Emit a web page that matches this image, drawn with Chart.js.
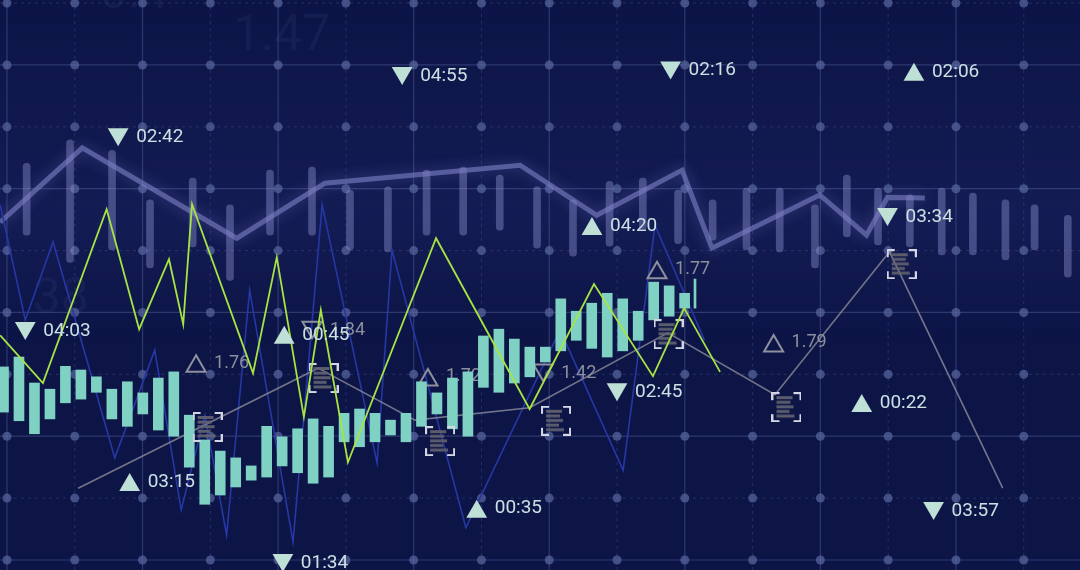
<!DOCTYPE html>
<html>
<head>
<meta charset="utf-8">
<style>
  html, body { margin: 0; padding: 0; background: #0d1547; }
  #chart { display: block; }
</style>
</head>
<body>
<canvas id="chart" width="1080" height="570"></canvas>
<script src="https://cdn.jsdelivr.net/npm/chart.js@4.4.0/dist/chart.umd.min.js"></script>
<script>
// mint candle bars, one per step (grid units)
const barLow  = [2.39, 2.25, 2.04, 2.28, 2.54, 2.60, 2.71, 2.28, 2.16, 2.36, 2.10, 2.00, 1.50, 0.90, 1.05,
                 1.18, 1.29, 1.34, 1.52, 1.41, 1.24, 1.34, 1.91, 1.83, 1.91, 2.02, 1.91, 2.16, 2.36, 2.12,
                 2.00, 2.79, 2.71, 2.86, 2.96, 3.20, 3.38, 3.55, 3.42, 3.28, 3.38, 3.55, 3.88, 3.94, 4.07];
const barHigh = [3.12, 3.28, 2.86, 2.76, 3.13, 3.07, 2.96, 2.76, 2.88, 2.70, 2.94, 3.04, 2.34, 1.94, 1.76,
                 1.65, 1.52, 2.16, 1.99, 2.12, 2.28, 2.16, 2.37, 2.44, 2.37, 2.26, 2.37, 2.88, 2.70, 2.94,
                 3.04, 3.62, 3.73, 3.57, 3.44, 3.44, 4.22, 4.02, 4.15, 4.31, 4.22, 4.02, 4.49, 4.43, 4.31];
const cursorStep = 44.67, cursorLow = 4.07, cursorHigh = 4.54;

// faint lavender sticks behind the upper line
const stickX    = [0.29, 0.93, 1.55, 2.11, 2.74, 3.29, 3.88, 4.50, 5.06, 5.62, 6.19, 6.73, 7.27, 7.82, 8.35,
                   8.89, 9.38, 9.90, 10.41, 10.91, 11.40, 11.92, 12.39, 12.85, 13.32, 13.79, 14.25, 14.73, 15.16, 15.65];
const stickLow  = [5.25, 4.81, 5.01, 4.72, 5.06, 4.52, 5.25, 5.25, 5.01, 4.98, 5.25, 5.25, 5.33, 5.04, 4.91,
                   5.07, 5.33, 5.11, 5.17, 5.01, 4.98, 4.72, 5.22, 5.09, 5.06, 4.93, 4.93, 4.85, 5.01, 4.57];
const stickHigh = [6.41, 6.79, 6.62, 5.82, 6.17, 5.74, 6.30, 6.35, 5.98, 6.03, 6.30, 6.35, 6.22, 6.03, 5.82,
                   6.12, 6.17, 5.98, 5.82, 6.01, 6.01, 5.74, 6.22, 6.01, 5.90, 6.01, 5.93, 5.82, 5.74, 5.57];

// wide lavender line
const lavX = [-0.10, 1.11, 3.39, 4.69, 7.57, 8.70, 9.96, 10.40, 11.99, 12.68, 12.99, 13.54];
const lavY = [5.46, 6.66, 5.20, 6.09, 6.38, 5.57, 6.30, 5.04, 5.90, 5.25, 5.86, 5.85];

// lime zigzag
const greenX = [-0.10, 0.53, 1.47, 1.95, 2.39, 2.60, 2.73, 3.63, 3.98, 4.38, 4.63, 5.03, 6.33, 7.71, 8.66, 9.53, 9.99, 10.52];
const greenY = [3.63, 2.86, 5.67, 3.73, 4.86, 3.81, 5.75, 3.02, 4.89, 2.31, 4.04, 1.58, 5.20, 2.44, 4.46, 2.97, 4.07, 3.04];

// thin blue zigzag
const blueX = [-0.10, 0.27, 0.68, 1.59, 2.18, 2.57, 2.92, 3.24, 3.58, 4.22, 4.65, 5.46, 5.68, 6.77, 8.16, 9.09, 9.56, 10.29];
const blueY = [5.74, 3.88, 5.14, 1.65, 3.39, 0.81, 2.34, 0.40, 4.36, 0.29, 5.74, 1.57, 5.01, 0.52, 3.72, 1.45, 5.41, 3.55];

// grey line and its bracket markers
const grayX = [1.05, 4.59, 6.02, 7.71, 9.75, 11.33, 13.02, 14.69];
const grayY = [1.16, 3.10, 2.26, 2.46, 3.67, 2.67, 4.98, 1.16];
const markX = [2.96, 4.67, 6.39, 8.10, 9.76, 11.50, 13.20];
const markY = [2.15, 2.94, 1.92, 2.25, 3.65, 2.47, 4.78];

// time labels with solid triangles
const timeLabels = ['02:42', '04:55', '02:16', '02:06', '04:20', '03:34', '04:03', '00:45', '02:45', '00:22', '03:15', '00:35', '01:34', '03:57'];
const timeX      = [1.64, 5.83, 9.79, 13.38, 8.63, 12.99, 0.27, 4.09, 9.00, 12.61, 1.81, 6.93, 4.07, 13.67];
const timeY      = [6.88, 7.87, 7.96, 7.84, 5.35, 5.59, 3.75, 3.59, 2.76, 2.49, 1.21, 0.78, 0.00, 0.84];
const timeDir    = ['down', 'down', 'down', 'up', 'up', 'down', 'down', 'up', 'down', 'up', 'up', 'up', 'down', 'down'];

// value labels with outline triangles
const valueLabels = ['1.76', '1.84', '1.72', '1.42', '1.77', '1.79'];
const valueX      = [2.79, 4.50, 6.21, 7.91, 9.59, 11.31];
const valueY      = [3.13, 3.76, 2.91, 3.07, 4.64, 3.46];
const valueDir    = ['up', 'down', 'up', 'down', 'up', 'up'];

// faint numbers in the background
const ghostText = ['1.47', '38', '0:4'];
const ghostX    = [3.33, 0.38, 1.37];
const ghostY    = [8.45, 4.20, 9.13];

const pts = (xs, ys) => xs.map((x, i) => ({ x: x, y: ys[i] }));

// bracket icon used as point style
function makeMarker() {
  const c = document.createElement('canvas');
  c.width = 30; c.height = 30;
  const g = c.getContext('2d');
  g.fillStyle = 'rgba(100,100,112,0.9)';
  [16, 14, 17, 13, 18].forEach((w, i) => g.fillRect(5, 4 + i * 4.6, w, 3));
  g.strokeStyle = '#d4d5e2';
  g.lineWidth = 2;
  g.beginPath();
  g.moveTo(1, 8); g.lineTo(1, 1); g.lineTo(8, 1);
  g.moveTo(22, 1); g.lineTo(29, 1); g.lineTo(29, 8);
  g.moveTo(29, 22); g.lineTo(29, 29); g.lineTo(22, 29);
  g.moveTo(8, 29); g.lineTo(1, 29); g.lineTo(1, 22);
  g.stroke();
  return c;
}

// grid, dots and ghost text
const backdrop = {
  id: 'backdrop',
  beforeDatasetsDraw(chart) {
    const { ctx, scales: { x, y } } = chart;
    ctx.save();
    const band = ctx.createLinearGradient(0, 0, 0, 570);
    band.addColorStop(0, 'rgba(40,50,120,0)');
    band.addColorStop(0.38, 'rgba(50,60,140,0.2)');
    band.addColorStop(0.6, 'rgba(40,50,120,0)');
    ctx.fillStyle = band;
    ctx.fillRect(0, 0, 1080, 570);

    ctx.fillStyle = 'rgba(140,150,210,0.07)';
    ctx.font = '50px Roboto';
    ctx.textBaseline = 'middle';
    ghostText.forEach((t, i) => ctx.fillText(t, x.getPixelForValue(ghostX[i]), y.getPixelForValue(ghostY[i])));

    const xi = [], yi = [];
    for (let k = Math.ceil(x.min); k <= x.max; k++) xi.push(k);
    for (let k = Math.ceil(y.min); k <= y.max; k++) yi.push(k);
    xi.forEach(k => {
      const px = x.getPixelForValue(k);
      ctx.setLineDash(k % 2 ? [3, 4] : []);
      ctx.strokeStyle = k % 2 ? 'rgba(95,110,170,0.3)' : 'rgba(95,110,170,0.4)';
      ctx.lineWidth = k % 2 ? 1 : 1.2;
      ctx.beginPath(); ctx.moveTo(px, 0); ctx.lineTo(px, 570); ctx.stroke();
    });
    yi.forEach(k => {
      const py = y.getPixelForValue(k);
      ctx.setLineDash(k % 2 ? [3, 4] : []);
      ctx.strokeStyle = k % 2 ? 'rgba(95,110,170,0.3)' : 'rgba(95,110,170,0.4)';
      ctx.lineWidth = k % 2 ? 1 : 1.2;
      ctx.beginPath(); ctx.moveTo(0, py); ctx.lineTo(1080, py); ctx.stroke();
    });
    ctx.setLineDash([]);
    ctx.fillStyle = 'rgba(90,104,160,0.7)';
    xi.forEach(i => yi.forEach(j => {
      ctx.beginPath();
      ctx.arc(x.getPixelForValue(i), y.getPixelForValue(j), 4.5, 0, Math.PI * 2);
      ctx.fill();
    }));
    ctx.restore();
  }
};

// glow on some datasets, text next to triangle points
const decorate = {
  id: 'decorate',
  beforeDatasetDraw(chart, args) {
    const ds = chart.data.datasets[args.index];
    if (ds.glow) {
      chart.ctx.save();
      chart.ctx.shadowColor = ds.glow;
      chart.ctx.shadowBlur = 14;
    }
  },
  afterDatasetDraw(chart, args) {
    const ds = chart.data.datasets[args.index];
    const ctx = chart.ctx;
    if (ds.glow) ctx.restore();
    if (!ds.texts) return;
    ctx.save();
    ctx.font = ds.textFont;
    ctx.fillStyle = ds.textColor;
    ctx.textBaseline = 'middle';
    args.meta.data.forEach((pt, i) => {
      const dy = ds.dirs[i] === 'down' ? 3 : -3;
      ctx.fillText(ds.texts[i], pt.x + 18, pt.y + dy);
    });
    ctx.restore();
  }
};

Chart.defaults.font.family = 'Roboto';

new Chart(document.getElementById('chart'), {
  type: 'bar',
  data: {
    datasets: [
      {
        type: 'bar', label: 'sticks', order: 9, xAxisID: 'x', grouped: false,
        data: stickX.map((x, i) => ({ x: x, y: [stickLow[i], stickHigh[i]] })),
        backgroundColor: 'rgba(150,152,215,0.4)', barThickness: 7,
        borderRadius: 4, borderSkipped: false
      },
      {
        type: 'line', label: 'lavender', order: 8, xAxisID: 'x',
        data: pts(lavX, lavY), borderColor: 'rgba(125,128,195,0.62)', borderWidth: 5,
        pointRadius: 0, tension: 0, glow: 'rgba(140,145,225,0.55)'
      },
      {
        type: 'line', label: 'blue', order: 7, xAxisID: 'x',
        data: pts(blueX, blueY), borderColor: '#2637a6', borderWidth: 1.6,
        pointRadius: 0, tension: 0
      },
      {
        type: 'line', label: 'grey', order: 6, xAxisID: 'x',
        data: pts(grayX, grayY), borderColor: 'rgba(140,140,155,0.8)', borderWidth: 1.6,
        pointRadius: 0, tension: 0
      },
      {
        type: 'line', label: 'values', order: 5, xAxisID: 'x', showLine: false,
        data: pts(valueX, valueY), pointStyle: 'triangle', pointRadius: 11,
        pointRotation: c => valueDir[c.dataIndex] === 'down' ? 180 : 0,
        pointBackgroundColor: 'rgba(0,0,0,0)', pointBorderColor: '#8e909e', pointBorderWidth: 2,
        texts: valueLabels, dirs: valueDir, textFont: '18px Roboto', textColor: '#8c8f9c', clip: false
      },
      {
        type: 'bar', label: 'bars', order: 4, xAxisID: 'xb', grouped: false,
        data: barLow.map((lo, i) => ({ x: i, y: [lo, barHigh[i]] })),
        backgroundColor: '#7fd2c3', barThickness: 10, borderSkipped: false
      },
      {
        type: 'bar', label: 'cursor', order: 4, xAxisID: 'xb', grouped: false,
        data: [{ x: cursorStep, y: [cursorLow, cursorHigh] }],
        backgroundColor: '#7fd2c3', barThickness: 2
      },
      {
        type: 'line', label: 'markers', order: 3, xAxisID: 'x', showLine: false,
        data: pts(markX, markY), pointStyle: makeMarker(), pointRadius: 15, clip: false
      },
      {
        type: 'line', label: 'green', order: 2, xAxisID: 'x',
        data: pts(greenX, greenY), borderColor: '#a6e444', borderWidth: 1.8,
        pointRadius: 0, tension: 0
      },
      {
        type: 'line', label: 'times', order: 1, xAxisID: 'x', showLine: false,
        data: pts(timeX, timeY), pointStyle: 'triangle', pointRadius: 12,
        pointRotation: c => timeDir[c.dataIndex] === 'down' ? 180 : 0,
        pointBackgroundColor: '#bfe0d6', pointBorderWidth: 0,
        texts: timeLabels, dirs: timeDir, textFont: '19px Roboto', textColor: '#cbe0e4', clip: false
      }
    ]
  },
  options: {
    responsive: false,
    animation: false,
    layout: { padding: 0, autoPadding: false },
    plugins: { legend: { display: false }, tooltip: { enabled: false } },
    scales: {
      x:  { type: 'linear', axis: 'x', min: -0.103, max: 15.83, offset: false, display: false },
      xb: { type: 'linear', axis: 'x', min: -0.226, max: 69.54, offset: false, display: false },
      y:  { type: 'linear', min: -0.162, max: 9.05, display: false }
    }
  },
  plugins: [backdrop, decorate]
});
</script>
</body>
</html>
